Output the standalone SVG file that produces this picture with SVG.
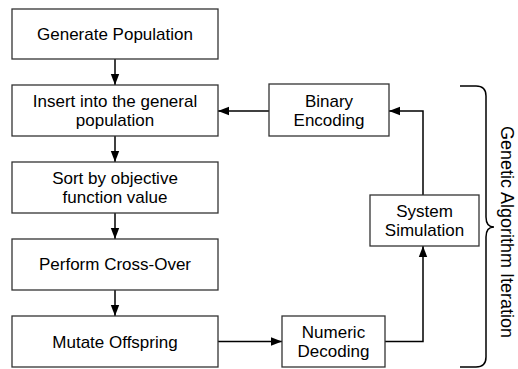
<svg xmlns="http://www.w3.org/2000/svg" width="518" height="369" viewBox="0 0 518 369">
<style>
.box{fill:#fff;stroke:#333;stroke-width:1.3}
.t{font-family:"Liberation Sans",Arial,sans-serif;font-size:17px;fill:#000;text-anchor:middle}
.c{fill:none;stroke:#000;stroke-width:1.5}
</style>
<defs>
<marker id="ah" markerUnits="userSpaceOnUse" markerWidth="12" markerHeight="10" refX="11" refY="5" orient="auto">
<path d="M0,0.8 L11,5 L0,9.2 Z" fill="#000"/>
</marker>
</defs>
<rect width="518" height="369" fill="#fff"/>
<g id="connectors">
<line class="c" x1="115" y1="59" x2="115" y2="85" marker-end="url(#ah)"/>
<line class="c" x1="115" y1="136" x2="115" y2="162" marker-end="url(#ah)"/>
<line class="c" x1="115" y1="213" x2="115" y2="239" marker-end="url(#ah)"/>
<line class="c" x1="115" y1="290" x2="115" y2="316" marker-end="url(#ah)"/>
<line class="c" x1="218" y1="341.5" x2="282" y2="341.5" marker-end="url(#ah)"/>
<polyline class="c" points="385,341.5 423,341.5 423,246" marker-end="url(#ah)"/>
<polyline class="c" points="423,195 423,111 389,111" marker-end="url(#ah)"/>
<line class="c" x1="269" y1="111" x2="218" y2="111" marker-end="url(#ah)"/>
</g>
<g id="generate">
<rect class="box" x="12" y="9" width="206" height="50"/>
<text class="t" x="115" y="40">Generate Population</text>
</g>
<g id="insert">
<rect class="box" x="12" y="85" width="206" height="51"/>
<text class="t" x="115" y="107">Insert into the general</text>
<text class="t" x="115" y="126">population</text>
</g>
<g id="sort">
<rect class="box" x="12" y="162" width="206" height="51"/>
<text class="t" x="115" y="184">Sort by objective</text>
<text class="t" x="115" y="203">function value</text>
</g>
<g id="crossover">
<rect class="box" x="12" y="239" width="206" height="51"/>
<text class="t" x="115" y="270">Perform Cross-Over</text>
</g>
<g id="mutate">
<rect class="box" x="12" y="316" width="206" height="51"/>
<text class="t" x="115" y="347.5">Mutate Offspring</text>
</g>
<g id="numeric">
<rect class="box" x="282" y="316" width="103" height="51"/>
<text class="t" x="333.5" y="338">Numeric</text>
<text class="t" x="333.5" y="357">Decoding</text>
</g>
<g id="simulation">
<rect class="box" x="370" y="195" width="109" height="51"/>
<text class="t" x="424.5" y="217">System</text>
<text class="t" x="424.5" y="236">Simulation</text>
</g>
<g id="binary">
<rect class="box" x="269" y="84" width="120" height="52"/>
<text class="t" x="329" y="106.5">Binary</text>
<text class="t" x="329" y="125.5">Encoding</text>
</g>
<g id="brace">
<path d="M460,86 L476,86 Q486,86 486,96 L486,217 Q486,227 494,227 Q486,227 486,237 L486,357 Q486,367 476,367 L460,367" fill="none" stroke="#000" stroke-width="1.5"/>
<text class="t" style="font-size:18px" transform="translate(501,232) rotate(90)">Genetic Algorithm Iteration</text>
</g>
</svg>
